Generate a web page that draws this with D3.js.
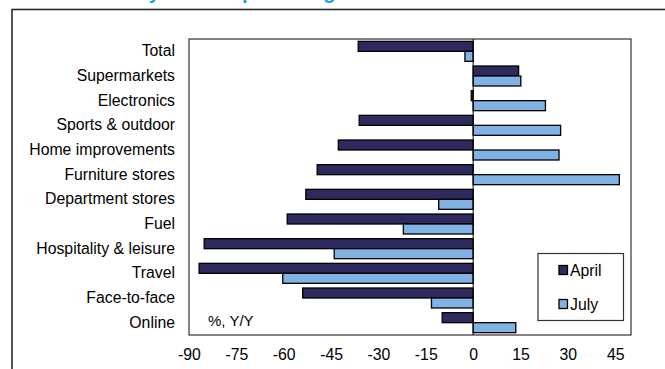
<!DOCTYPE html>
<html>
<head>
<meta charset="utf-8">
<script src="https://cdn.jsdelivr.net/npm/d3@7"></script>
<style>
  html, body { margin: 0; padding: 0; background: #fff; }
  svg { display: block; font-family: "Liberation Sans", Arial, sans-serif; }
</style>
</head>
<body>
<svg id="chart" width="665" height="369"></svg>
<script>
// Spending change by category, % year on year
const categories = [
  "Total", "Supermarkets", "Electronics", "Sports & outdoor",
  "Home improvements", "Furniture stores", "Department stores", "Fuel",
  "Hospitality & leisure", "Travel", "Face-to-face", "Online"
];
const seriesNames = ["April", "July"];
const aprilValues = [-36.4, 14.4, -0.6, -36.1, -42.7, -49.4, -53.0, -58.9, -85.2, -86.8, -54.0, -9.8];
const julyValues  = [-2.6, 15.1, 22.9, 27.7, 27.2, 46.3, -10.9, -22.1, -44.0, -60.3, -13.2, 13.5];
const tickValues = [-90, -75, -60, -45, -30, -15, 0, 15, 30, 45];
const titleText = "Discretionary items top the league table";
const unitLabel = "%, Y/Y";

const colors = { April: "#2e2a5e", July: "#80b3e3" };

const rows = categories.map((c, i) => ({ category: c, April: aprilValues[i], July: julyValues[i] }));

const svg = d3.select("#chart");
const plot = { left: 189, right: 631, top: 39, bottom: 335 };

// Outer panel frame (runs off the right and bottom edges)
svg.append("rect")
  .attr("x", 12).attr("y", 9.5)
  .attr("width", 700).attr("height", 400)
  .attr("fill", "none").attr("stroke", "#2a2a2a").attr("stroke-width", 1.6);

// Title, sitting above the panel
svg.append("text")
  .attr("x", 32).attr("y", -1)
  .attr("font-size", 20).attr("font-weight", "bold")
  .attr("fill", "#1a9fe3")
  .text(titleText);

const x = d3.scaleLinear().domain([-90, 50]).range([plot.left, plot.right]);
const y = d3.scaleBand().domain(categories).range([plot.top, plot.bottom]).padding(0);
const ySub = d3.scaleBand().domain(seriesNames)
  .range([y.bandwidth() * 0.095, y.bandwidth() * 0.905]).padding(0);

// Plot area border
svg.append("rect")
  .attr("x", plot.left).attr("y", plot.top)
  .attr("width", plot.right - plot.left).attr("height", plot.bottom - plot.top)
  .attr("fill", "none").attr("stroke", "#333").attr("stroke-width", 1.2);

// Bars
const groups = svg.append("g").selectAll("g")
  .data(rows).join("g")
  .attr("transform", d => `translate(0,${y(d.category)})`);

groups.selectAll("rect")
  .data(d => seriesNames.map(s => ({ series: s, value: d[s] })))
  .join("rect")
  .attr("x", d => x(Math.min(0, d.value)))
  .attr("y", d => ySub(d.series))
  .attr("width", d => Math.abs(x(d.value) - x(0)))
  .attr("height", ySub.bandwidth())
  .attr("fill", d => colors[d.series])
  .attr("stroke", "#000").attr("stroke-width", 1.3);

// Zero line
svg.append("line")
  .attr("x1", x(0)).attr("x2", x(0))
  .attr("y1", plot.top).attr("y2", plot.bottom)
  .attr("stroke", "#000").attr("stroke-width", 1);

// Category labels
const yAxis = d3.axisLeft(y).tickSize(0).tickPadding(14);
const yg = svg.append("g").attr("transform", `translate(${plot.left},0)`).call(yAxis);
yg.select(".domain").remove();
yg.selectAll("text").attr("font-size", 15.8).attr("font-family", "Liberation Sans, Arial, sans-serif").attr("fill", "#000");

// Value axis labels (plain hyphen for negatives)
const xAxis = d3.axisBottom(x).tickValues(tickValues).tickSize(0).tickPadding(14).tickFormat(d => String(d));
const xg = svg.append("g").attr("transform", `translate(0,${plot.bottom})`).call(xAxis);
xg.select(".domain").remove();
xg.selectAll("text").attr("font-size", 15.8).attr("font-family", "Liberation Sans, Arial, sans-serif").attr("fill", "#000");

// Unit note inside the plot
svg.append("text")
  .attr("x", 208).attr("y", 326)
  .attr("font-size", 15).attr("fill", "#000")
  .text(unitLabel);

// Legend
const legend = svg.append("g");
legend.append("rect")
  .attr("x", 538).attr("y", 253.5).attr("width", 85.5).attr("height", 67)
  .attr("fill", "#fff").attr("stroke", "#333").attr("stroke-width", 1.2);
const legendY = d3.scalePoint().domain(seriesNames).range([270, 304]);
const items = legend.selectAll("g.item").data(seriesNames).join("g")
  .attr("class", "item")
  .attr("transform", s => `translate(559,${legendY(s)})`);
items.append("rect")
  .attr("x", 0).attr("y", -4.5).attr("width", 8.5).attr("height", 9)
  .attr("fill", s => colors[s]).attr("stroke", "#000").attr("stroke-width", 1.3);
items.append("text")
  .attr("x", 11).attr("y", 5.5)
  .attr("font-size", 15.8).attr("fill", "#000")
  .text(s => s);
</script>
</body>
</html>
